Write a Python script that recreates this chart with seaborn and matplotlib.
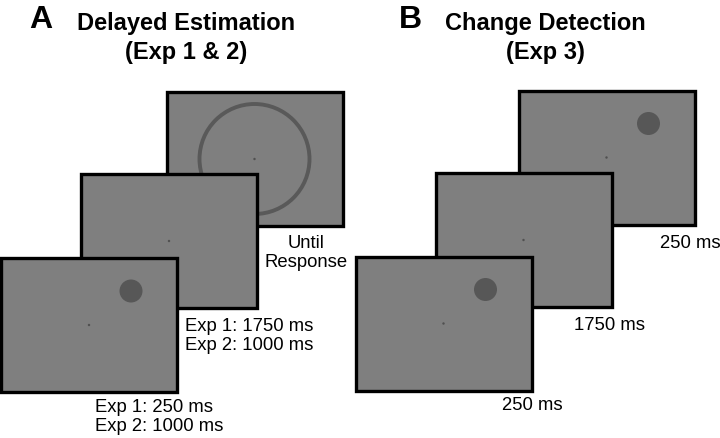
import matplotlib
matplotlib.use("Agg")
import matplotlib.pyplot as plt
from matplotlib.patches import Rectangle, Circle
import seaborn as sns
import pandas as pd

sns.set_theme(style="white")
plt.rcParams['font.family'] = ['Liberation Sans', 'DejaVu Sans']
plt.rcParams['text.color'] = 'black'

# ---- content ----
panel_letters = ["A", "B"]
panel_titles = ["Delayed Estimation\n(Exp 1 & 2)", "Change Detection\n(Exp 3)"]
labels_A = ["Exp 1: 250 ms\nExp 2: 1000 ms", "Exp 1: 1750 ms\nExp 2: 1000 ms", "Until\nResponse"]
labels_B = ["250 ms", "1750 ms", "250 ms"]
# stimulus on each screen: 'disk', 'none', 'ring'
stim_A = ["disk", "none", "ring"]
stim_B = ["disk", "none", "disk"]

# ---- layout (pixel space, y down) ----
W, H = 720, 438
scr_w, scr_h = 176, 134
centers_A = [(89, 325), (169, 241), (254.5, 159)]
centers_B = [(443.5, 323.5), (523.5, 240), (606.5, 157.5)]
disk_off = (42, -34)
disk_r = 11.5
ring_r = 55

fig = plt.figure(figsize=(7.2, 4.38), dpi=100)
ax = fig.add_axes([0, 0, 1, 1])

screen_fill = "#7f7f7f"
dark = "#575757"

def draw_screens(centers, stims, z0):
    for i in reversed(range(3)):
        cx, cy = centers[i]
        z = z0 + (3 - i) * 10
        ax.add_patch(Rectangle((cx - scr_w / 2, cy - scr_h / 2), scr_w, scr_h,
                               facecolor=screen_fill, edgecolor="black",
                               linewidth=2.4, zorder=z))
        if stims[i] == "disk":
            ax.add_patch(Circle((cx + disk_off[0], cy + disk_off[1]), disk_r,
                                facecolor=dark, edgecolor="none", zorder=z + 1))
        elif stims[i] == "ring":
            ax.add_patch(Circle((cx, cy), ring_r, facecolor="none",
                                edgecolor="#595959", linewidth=2.8, zorder=z + 1))
        df = pd.DataFrame({"x": [cx], "y": [cy]})
        sns.scatterplot(data=df, x="x", y="y", ax=ax, s=3, color="#505050",
                        edgecolor="none", zorder=z + 2, legend=False)

draw_screens(centers_A, stim_A, 0)
draw_screens(centers_B, stim_B, 100)
ax.set_xlim(0, W)
ax.set_ylim(H, 0)
ax.axis("off")

fs = 13.3
ls = 1.2
tc = "black"
# Panel A labels
ax.text(95, 417, labels_A[0], ha="left", va="center", fontsize=fs, linespacing=ls, color=tc)
ax.text(185, 336, labels_A[1], ha="left", va="center", fontsize=fs, linespacing=ls, color=tc)
ax.text(306, 253, labels_A[2], ha="center", va="center", fontsize=fs, linespacing=ls, color=tc)
# Panel B labels
ax.text(532, 405, labels_B[0], ha="center", va="center", fontsize=fs, color=tc)
ax.text(609, 325, labels_B[1], ha="center", va="center", fontsize=fs, color=tc)
ax.text(690, 243, labels_B[2], ha="center", va="center", fontsize=fs, color=tc)

# Titles
ax.text(41, 20, panel_letters[0], ha="center", va="center", fontsize=23, fontweight="bold", color=tc)
ax.text(410, 20, panel_letters[1], ha="center", va="center", fontsize=23, fontweight="bold", color=tc)
ax.text(186, 38, panel_titles[0], ha="center", va="center", fontsize=17, fontweight="bold", linespacing=1.35, color=tc)
ax.text(545, 38, panel_titles[1], ha="center", va="center", fontsize=17, fontweight="bold", linespacing=1.35, color=tc)

fig.savefig("out.png", dpi=100, facecolor="white")
